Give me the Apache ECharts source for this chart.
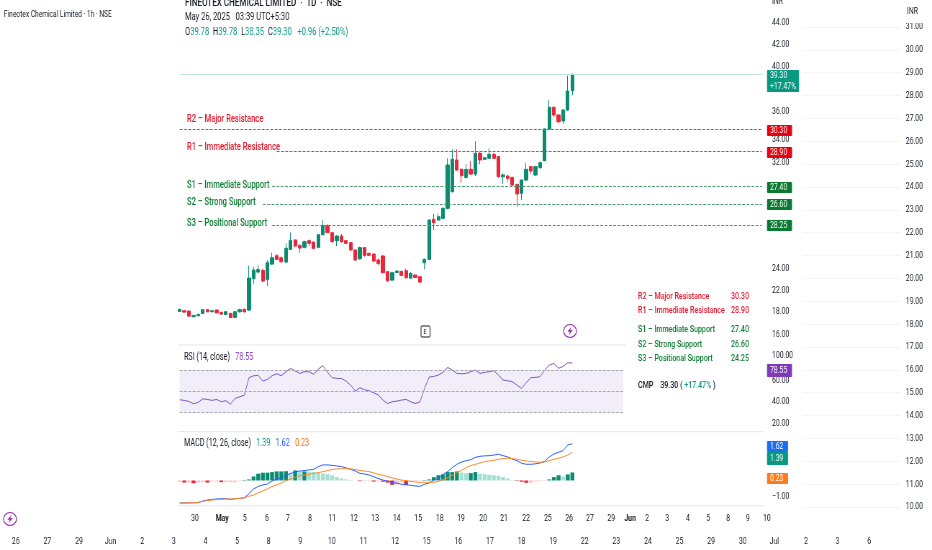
<!DOCTYPE html>
<html><head><meta charset="utf-8">
<style>html,body{margin:0;padding:0;background:#fff;width:932px;height:550px;overflow:hidden}
#c{width:1295px;height:550px;transform:scaleX(0.71969);transform-origin:0 0}</style>
<script src="https://cdn.jsdelivr.net/npm/echarts@6/dist/echarts.min.js"></script>
</head><body><div id="c"></div>
<script>
// [open, close, low, high]
const candles = [
[18.05,18.23,17.99,18.29],[18.11,17.99,17.93,18.14],[18.08,17.63,17.54,18.14],[17.57,17.69,17.54,17.72],[17.66,17.78,17.63,17.84],
[17.87,18.20,17.81,18.26],[18.20,18.02,17.96,18.26],[18.02,18.11,17.96,18.17],[18.17,17.93,17.87,18.23],[17.96,17.81,17.75,18.02],
[17.78,18.02,17.72,18.08],[17.87,17.51,17.45,17.93],[17.51,18.02,17.45,18.08],[18.02,18.20,17.96,18.29],[18.23,18.02,17.96,18.32],
[18.17,21.04,18.11,22.15],[20.99,21.76,20.51,22.06],[21.58,21.82,21.46,22.21],[21.73,20.78,20.68,21.88],[20.93,22.42,20.33,22.66],
[22.30,22.87,22.21,23.32],[23.05,22.72,22.66,23.17],[22.87,22.51,22.42,22.96],[22.48,23.71,22.39,24.16],[23.62,24.40,23.56,25.14],
[24.46,23.92,23.80,24.54],[23.98,23.74,23.32,24.04],[23.80,24.31,23.68,24.40],[24.40,24.16,23.92,24.51],[24.25,23.71,23.62,24.37],
[23.80,24.93,23.71,24.99],[24.93,25.77,24.87,26.25],[25.77,25.14,25.05,25.86],[25.11,24.31,24.22,25.20],[24.40,24.81,23.92,24.87],
[24.81,24.31,24.22,24.99],[24.40,24.16,24.07,24.46],[24.22,23.56,23.50,24.28],[23.56,22.66,22.57,23.62],[22.78,23.77,22.69,23.86],
[23.77,23.08,22.96,23.83],[23.26,23.08,23.02,23.32],[23.20,22.57,22.48,23.26],[22.66,22.36,22.21,22.81],[23.02,21.52,21.46,23.11],
[21.61,20.80,20.71,21.67],[20.86,21.52,20.80,21.61],[21.55,21.67,21.46,21.73],[21.64,21.28,21.22,21.70],[21.70,21.07,21.01,21.88],
[21.04,21.46,20.99,21.58],[21.31,21.10,21.04,21.37],[21.16,20.68,20.60,21.25],[22.42,22.72,21.82,22.81],[22.72,26.25,22.66,26.31],
[26.31,26.01,25.35,26.79],[26.25,26.55,26.19,26.85],[26.40,27.30,26.34,27.39],[27.30,31.19,27.24,31.79],[28.80,31.70,28.71,32.60],
[31.64,30.74,30.68,32.60],[30.80,30.23,29.60,30.89],[30.08,30.80,29.96,31.28],[30.80,30.38,30.29,31.55],[30.38,32.24,30.20,33.34],
[32.24,31.64,31.25,32.39],[31.70,31.85,31.64,31.91],[31.79,32.15,31.73,32.68],[32.15,31.79,31.73,32.24],[31.94,30.14,30.05,32.00],
[30.14,30.29,29.48,30.44],[30.20,29.99,29.69,30.29],[30.08,29.39,29.30,30.14],[29.45,28.59,27.45,29.51],[28.65,29.84,28.05,29.90],
[29.84,30.80,29.78,31.40],[31.04,30.65,30.38,31.10],[30.29,31.04,30.20,31.13],[30.95,31.40,30.86,31.49],[31.58,34.42,31.52,34.48],
[34.42,36.37,34.33,37.02],[36.37,35.68,35.47,36.43],[35.68,35.08,34.93,35.74],[35.14,36.13,34.87,36.19],[36.13,37.83,36.07,39.20],
[37.86,39.30,37.47,39.42]];
const rsi = [42.1,41.5,40.5,38.3,39.6,43.0,42.4,41.5,42.4,40.2,41.2,38.0,43.4,44.9,46.5,62.9,64.7,65.1,59.7,61.3,64.7,66.6,64.7,68.5,71.7,69.2,66.9,68.5,68.5,66.0,71.0,74.2,67.9,62.9,62.2,62.2,59.7,55.9,50.3,53.4,51.5,50.6,48.7,46.5,41.8,38.6,40.2,40.8,41.8,42.4,40.2,38.6,39.9,52.8,63.5,64.1,65.4,67.9,72.6,70.1,66.9,66.6,66.9,68.5,70.1,66.9,67.9,68.5,69.5,65.4,60.7,60.0,59.1,55.9,52.8,58.1,62.9,63.2,63.8,70.1,74.8,76.4,71.7,73.6,77.0,76.7];
const macd = [-1.07,-1.07,-1.07,-1.06,-1.06,-0.98,-0.93,-0.90,-0.88,-0.87,-0.87,-0.90,-0.87,-0.85,-0.82,-0.63,-0.40,-0.28,-0.21,-0.17,-0.02,0.06,0.13,0.23,0.34,0.40,0.45,0.47,0.50,0.53,0.66,0.74,0.74,0.72,0.69,0.66,0.60,0.53,0.45,0.34,0.31,0.26,0.18,0.09,0.02,-0.04,-0.09,-0.13,-0.18,-0.20,-0.23,-0.26,-0.28,-0.18,-0.12,0.01,0.10,0.29,0.42,0.61,0.77,0.88,0.94,0.99,1.10,1.15,1.17,1.18,1.21,1.25,1.18,1.12,1.02,0.94,0.82,0.77,0.77,0.79,0.83,0.91,1.12,1.26,1.34,1.42,1.69,1.75];
const signal = [-1.07,-1.07,-1.06,-1.06,-1.04,-0.99,-0.96,-0.93,-0.91,-0.90,-0.88,-0.88,-0.87,-0.85,-0.83,-0.75,-0.69,-0.60,-0.50,-0.40,-0.29,-0.20,-0.12,-0.01,0.07,0.15,0.23,0.26,0.29,0.34,0.37,0.42,0.47,0.52,0.55,0.56,0.56,0.55,0.52,0.48,0.45,0.42,0.36,0.29,0.25,0.18,0.12,0.07,0.02,-0.01,-0.04,-0.07,-0.09,-0.09,-0.09,-0.09,-0.04,0.04,0.13,0.25,0.36,0.48,0.61,0.71,0.77,0.83,0.90,0.93,0.96,1.01,1.04,1.06,1.04,1.01,0.96,0.93,0.90,0.88,0.87,0.88,0.94,1.01,1.06,1.12,1.21,1.34];
const hist = [-0.08,-0.10,-0.10,-0.13,-0.11,-0.08,-0.10,-0.05,-0.05,-0.08,-0.08,-0.08,-0.08,-0.02,0.02,0.05,0.19,0.32,0.37,0.37,0.40,0.43,0.43,0.44,0.35,0.48,0.43,0.43,0.41,0.40,0.37,0.33,0.30,0.24,0.16,0.10,0.05,0.02,0,-0.03,-0.03,-0.03,-0.05,-0.05,-0.06,-0.10,-0.21,-0.19,-0.08,-0.22,-0.05,-0.03,-0.02,0.02,0.05,0.16,0.25,0.29,0.40,0.40,0.43,0.38,0.35,0.35,0.40,0.32,0.30,0.27,0.25,0.22,0.16,0.10,0.02,-0.02,-0.06,-0.11,-0.11,-0.05,-0.03,-0.02,0.05,0.16,0.25,0.19,0.29,0.38];

const priceTickAt = [44,42,40,36,33.5,31.4,21.9,19.9,18,16];
const priceTickText = ['44.00','42.00','40.00','36.00','34.00','32.00','24.00','22.00','18.00','16.00'];
const rsiTickAt = [83.3,60,40,20];
const rsiTickText = ['100.00','60.00','40.00','20.00'];
const macdTickAt = [-0.79];
const macdTickText = ['−1.00'];

const dayTickAt = [3.3,9.2,14.1,18.9,23.4,28.2,33,37.7,42.3,47,51.6,56.3,60.9,65.7,70.2,75,79.7,84.3,88.8,93.4,97.5,101.2,105.5,110,114.4,118.7,123,127.1];
const dayTickText = ['30','May','5','6','7','8','11','12','13','14','15','18','19','20','21','22','25','26','27','29','Jun','2','3','4','5','8','9','10'];
const lowerDates = ['26','27','29','Jun','2','3','4','5','8','9','10','11','12','15','16','17','18','19','22','23','24','25','29','30','Jul','2','3','6',''];

const levelNames = ['R2 – Major Resistance','R1 – Immediate Resistance','S1 – Immediate Support','S2 – Strong Support','S3 – Positional Support'];
const levelAxisValue = [34.39,32.44,29.24,27.71,25.77];
const levelStartBar = [0,21,20,18,20];
const levelTags = ['30.30','28.90','27.40','26.60','28.25'];
const tableValues = ['30.30','28.90','27.40','26.60','24.25'];
const lastPrice = 39.30;

const SX = 932/1295;           // the page is squeezed horizontally by CSS, like the source image
const X = px => px/SX;
const FONT = 'Roboto, sans-serif';
const INK='#131722', RED='#e0192d', GREEN='#0f7d32', TEAL='#089981', UP='#0b8c70', DOWN='#e8273c';
const BAR=4.62, LEFT=177.36, BARS=127;
const cats = Array.from({length:BARS},(_,i)=>String(i));

const axisBase = {axisLine:{show:false},axisTick:{show:false},splitLine:{show:false}};
function labelled(at,text){
  return {customValues:at,color:INK,fontFamily:FONT,fontSize:9.5,margin:11,
    formatter:v=>{const k=at.indexOf(v);return k<0?'':text[k];}};
}
function xCat(gi){return {type:'category',gridIndex:gi,data:cats,boundaryGap:true,show:false};}

const graphics=[];
function txt(x,y,text,opt){graphics.push({type:'text',z:102,x:X(x),y,silent:true,style:Object.assign({text,fill:INK,font:'10px '+FONT,textVerticalAlign:'middle'},opt||{})});}
function tag(x,y,w,h,bg,text){
  graphics.push({type:'rect',z:101,silent:true,shape:{x:X(x),y,width:X(w),height:h,r:1},style:{fill:bg}});
  graphics.push({type:'text',z:102,silent:true,x:X(x+3),y:y+h/2,style:{text,fill:'#fff',font:'9.5px '+FONT,textVerticalAlign:'middle',lineHeight:11}});
}
function sep(y,x1,x2){graphics.push({type:'line',z:1,silent:true,shape:{x1:X(x1),y1:y,x2:X(x2),y2:y},style:{stroke:'#e3e5ea',lineWidth:1}});}
function bolt(cx,cy){
  graphics.push({type:'ellipse',z:102,silent:true,shape:{cx:X(cx),cy,rx:X(6.5),ry:6.5},style:{fill:'#fff',stroke:'#9c27b0',lineWidth:1.2}});
  const pts=[[1.2,-4.2],[-2.6,0.8],[-0.2,0.8],[-1.2,4.2],[2.6,-1],[0.2,-1]];
  graphics.push({type:'polygon',z:103,silent:true,shape:{points:pts.map(p=>[X(cx+p[0]),cy+p[1]])},style:{fill:'#9c27b0'}});
}

graphics.push({type:'rect',z:100,silent:true,shape:{x:X(626),y:280,width:X(138),height:146},style:{fill:'#fff'}});
sep(345,178,764); sep(431.7,178,764); sep(505.7,178,764);

txt(4,14.5,'Fineotex Chemical Limited · 1h · NSE',{font:'9.2px '+FONT});
txt(185,3,'FINEOTEX CHEMICAL LIMITED  ·  1D  ·  NSE',{font:'500 11.2px '+FONT});
txt(185,17,'May 26, 2025   03:39 UTC+5:30',{font:'10.5px '+FONT});
graphics.push({type:'text',z:102,silent:true,x:X(185),y:32,style:{
  text:'{k|O}{v|39.78}  {k|H}{v|39.78}  {k|L}{v|38.35}  {k|C}{v|39.30}   {v|+0.96 (+2.50%)}',
  textVerticalAlign:'middle',font:'10.5px '+FONT,
  rich:{k:{fill:INK,font:'10.5px '+FONT},v:{fill:TEAL,font:'10.5px '+FONT}}}});

const levelLabelY=[119.5,147.5,185.5,202.5,223.5];
levelNames.forEach((n,i)=>txt(187,levelLabelY[i],n,{fill:i<2?RED:GREEN,font:'500 10.5px '+FONT}));

const tableY=[296.7,311,330,344.5,359];
levelNames.forEach((n,i)=>{
  txt(638,tableY[i],n,{fill:i<2?RED:GREEN,font:'500 9.8px '+FONT});
  txt(731,tableY[i],tableValues[i],{fill:i<2?RED:GREEN,font:'500 9.8px '+FONT});
});
graphics.push({type:'text',z:102,silent:true,x:X(638),y:386,style:{
  text:'{a|CMP}    {a|39.30 ( }{g|+17.47%}{a| )}',textVerticalAlign:'middle',font:'500 9.8px '+FONT,
  rich:{a:{fill:INK,font:'500 9.8px '+FONT},g:{fill:TEAL,font:'500 9.8px '+FONT}}}});

graphics.push({type:'text',z:102,silent:true,x:X(184),y:357,style:{
  text:'{k|RSI (14, close)}   {p|78.55}',textVerticalAlign:'middle',font:'10px '+FONT,
  rich:{k:{fill:INK,font:'10px '+FONT},p:{fill:'#7e3ab8',font:'10px '+FONT}}}});
graphics.push({type:'text',z:102,silent:true,x:X(184),y:443,style:{
  text:'{k|MACD (12, 26, close)}   {g|1.39}   {b|1.62}   {o|0.23}',textVerticalAlign:'middle',font:'10px '+FONT,
  rich:{k:{fill:INK,font:'10px '+FONT},g:{fill:TEAL,font:'10px '+FONT},b:{fill:'#2962ff',font:'10px '+FONT},o:{fill:'#ff6d00',font:'10px '+FONT}}}});

txt(772,2,'INR',{font:'9.5px '+FONT});
graphics.push({type:'rect',z:101,silent:true,shape:{x:X(900),y:0,width:X(32),height:23},style:{fill:'#fff'}});
txt(907,12,'INR',{font:'9.5px '+FONT});

tag(767,70,32,22,TEAL,'39.30\n+17.47%');
tag(767,125,25,11,'#e60012',levelTags[0]);
tag(767,147,25,11,'#e60012',levelTags[1]);
tag(767,182,25,11,'#0a7a32',levelTags[2]);
tag(767,199,25,11,'#0a7a32',levelTags[3]);
tag(767,220,25,11,'#0a7a32',levelTags[4]);
tag(767,364,25,13,'#7e3ab8','78.55');
tag(767,441,21,11,'#1a6ff0','1.62');
tag(767,452,21,13,TEAL,'1.39');
tag(767,473,21,11,'#ff7a1a','0.23');

graphics.push({type:'rect',z:102,silent:true,shape:{x:X(421),y:326,width:X(9),height:11,r:1},style:{fill:'#fff',stroke:INK,lineWidth:1}});
txt(423.3,331.7,'E',{font:'8px '+FONT});
bolt(570,331); bolt(10,519);

const levelLines = levelAxisValue.map((v,i)=>[
  {xAxis:levelStartBar[i],yAxis:v,lineStyle:{color:i<2?'#e8374a':'#4f9a6e',type:'dashed',width:1}},
  {xAxis:BARS-1,yAxis:v}]);
levelLines.push([{xAxis:0,yAxis:lastPrice,lineStyle:{color:'#bfe6dd',type:'solid',width:1}},{xAxis:BARS-1,yAxis:lastPrice}]);

const rsiBand = [70,50,30];
const option = {
  animation:false, backgroundColor:'#fff',
  textStyle:{fontFamily:FONT},
  grid:[
    {left:X(LEFT),top:0,width:X(BAR*BARS),height:345.4},
    {left:X(LEFT),top:345,width:X(BAR*BARS),height:86.7},
    {left:X(LEFT),top:431.7,width:X(BAR*BARS),height:74},
    {left:X(LEFT),top:505,width:X(BAR*133),height:1},
    {left:X(-1.85),top:530,width:X(31.67*lowerDates.length),height:1},
    {left:X(803),top:27,width:X(97),height:480}
  ],
  xAxis:[
    xCat(0),xCat(1),xCat(2),
    Object.assign({type:'value',gridIndex:3,min:-0.5,max:132.5,position:'bottom',
      axisLabel:{customValues:dayTickAt,color:INK,fontSize:9.5,fontFamily:FONT,margin:8,
        formatter:v=>{const k=dayTickAt.indexOf(v);if(k<0)return '';const t=dayTickText[k];return /[A-Z]/.test(t)?'{b|'+t+'}':t;},
        rich:{b:{fontWeight:'bold',fontSize:9.5,fontFamily:FONT,color:INK}}}},axisBase),
    Object.assign({type:'category',gridIndex:4,data:lowerDates,position:'bottom',
      axisLabel:{interval:0,color:INK,fontSize:9.5,fontFamily:FONT,margin:6}},axisBase),
    {type:'value',gridIndex:5,show:false,min:0,max:1}
  ],
  yAxis:[
    Object.assign({type:'value',gridIndex:0,min:15,max:46,position:'right',axisLabel:labelled(priceTickAt,priceTickText)},axisBase),
    Object.assign({type:'value',gridIndex:1,min:12,max:93.7,position:'right',axisLabel:labelled(rsiTickAt,rsiTickText)},axisBase),
    Object.assign({type:'value',gridIndex:2,min:-1.2,max:2.32,position:'right',axisLabel:labelled(macdTickAt,macdTickText)},axisBase),
    {type:'value',gridIndex:3,show:false,min:0,max:1},
    {type:'value',gridIndex:4,show:false,min:0,max:1},
    {type:'value',gridIndex:5,min:10,max:31,interval:1,position:'right',axisLine:{show:false},axisTick:{show:false},
      splitLine:{show:true,lineStyle:{color:'#f3f4f7',width:1}},
      axisLabel:{color:INK,fontSize:9.5,fontFamily:FONT,margin:8,formatter:v=>v.toFixed(2)}}
  ],
  series:[
    {type:'candlestick',xAxisIndex:0,yAxisIndex:0,data:candles,barWidth:X(3.4),
      itemStyle:{color:UP,color0:DOWN,borderColor:UP,borderColor0:DOWN,borderWidth:1},
      markLine:{silent:true,symbol:'none',label:{show:false},animation:false,data:levelLines}},
    {type:'line',xAxisIndex:1,yAxisIndex:1,data:rsi,showSymbol:false,smooth:false,
      lineStyle:{color:'#7e57c2',width:1},
      markArea:{silent:true,itemStyle:{color:'rgba(126,87,194,0.10)'},
        data:[[{xAxis:0,yAxis:rsiBand[0]},{xAxis:96,yAxis:rsiBand[2]}]]},
      markLine:{silent:true,symbol:'none',label:{show:false},
        data:rsiBand.map(v=>[{xAxis:0,yAxis:v,lineStyle:{color:'#a9a6b4',type:'dashed',width:1}},{xAxis:96,yAxis:v}])}},
    {type:'bar',xAxisIndex:2,yAxisIndex:2,data:hist,barWidth:X(3.9),
      itemStyle:{color:p=>{
        const v=p.value,prev=p.dataIndex?hist[p.dataIndex-1]:v;
        return v>=0?(v>=prev?'#0b8c70':'#a6dfd3'):(v<prev?'#e8273c':'#f9c3c8');}}},
    {type:'line',xAxisIndex:2,yAxisIndex:2,data:macd,showSymbol:false,lineStyle:{color:'#2962ff',width:1}},
    {type:'line',xAxisIndex:2,yAxisIndex:2,data:signal,showSymbol:false,lineStyle:{color:'#ff8a2b',width:1}}
  ],
  graphic:{elements:graphics}
};
echarts.init(document.getElementById('c'),null,{renderer:'canvas'}).setOption(option);
</script>
</body></html>
